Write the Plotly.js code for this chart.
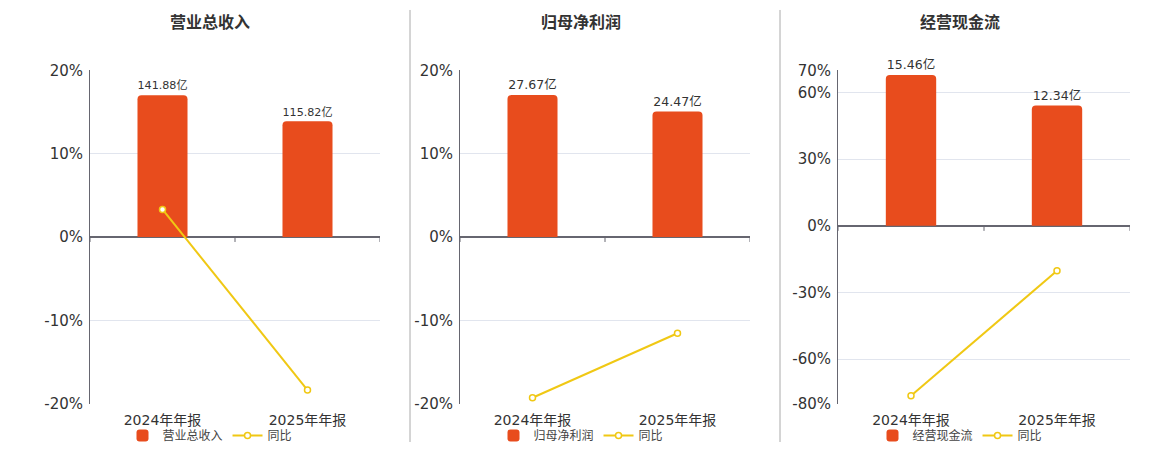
<!DOCTYPE html>
<html><head><meta charset="utf-8">
<script src="https://cdn.plot.ly/plotly-3.0.1.min.js"></script>
<style>html,body{margin:0;padding:0;background:#fff}#chart{width:1160px;height:450px}</style>
</head><body><div id="chart"></div>
<script>
const categories = ['2024年年报', '2025年年报'];
const panelTitles = ['营业总收入', '归母净利润', '经营现金流'];
const revenue = [141.88, 115.82];
const revenueYoY = [3.3, -18.37];
const netProfit = [27.67, 24.47];
const netProfitYoY = [-19.3, -11.56];
const cashFlow = [15.46, 12.34];
const cashFlowYoY = [-76.5, -20.18];
const pctTicks1 = [20, 10, 0, -10, -20];
const pctTicks3 = [70, 60, 30, 0, -30, -60, -80];

const FONT = 'DejaVu Sans, Noto Sans CJK SC, sans-serif';
const BAR = '#e84c1d';
const LINE = '#f0c814';
const W = 1160, H = 450;
const px = v => v / W, py = v => 1 - v / H;

const panels = [
  {bars: revenue, yoy: revenueYoY, domain: [px(90), px(380)], pRange: [-20, 20], bRange: [-166.7, 166.7], ticks: pctTicks1, tx: 210, lx: 210},
  {bars: netProfit, yoy: netProfitYoY, domain: [px(460), px(750)], pRange: [-20, 20], bRange: [-32.5, 32.5], ticks: pctTicks1, tx: 581, lx: 581},
  {bars: cashFlow, yoy: cashFlowYoY, domain: [px(838), px(1130)], pRange: [-80, 70], bRange: [-18.23, 15.95], ticks: pctTicks3, tx: 960, lx: 960}
];

const traces = [];
const layout = {
  width: W, height: H,
  margin: {l: 0, r: 0, t: 0, b: 0},
  paper_bgcolor: '#fff', plot_bgcolor: 'rgba(0,0,0,0)',
  font: {family: FONT, color: '#333', size: 12},
  showlegend: true,
  annotations: [], shapes: []
};

panels.forEach((p, i) => {
  const n = i + 1;
  const xa = n === 1 ? 'x' : 'x' + n;
  const yb = 'y' + (2 * n - 1 === 1 ? '' : (2 * n - 1));
  const yl = 'y' + (2 * n);
  const leg = n === 1 ? 'legend' : 'legend' + n;
  traces.push({
    type: 'bar', x: categories, y: p.bars, xaxis: xa, yaxis: yb,
    name: panelTitles[i], legend: leg,
    width: 0.345,
    marker: {color: BAR, cornerradius: 4},
    text: p.bars.map(v => v.toFixed(2) + '亿'),
    textposition: 'outside', cliponaxis: false,
    textfont: {size: 12.5, color: '#333', family: FONT},
    hoverinfo: 'skip'
  });
  traces.push({
    type: 'scatter', mode: 'lines+markers', x: categories, y: p.yoy, xaxis: xa, yaxis: yl,
    name: '同比', legend: leg,
    line: {color: LINE, width: 2},
    marker: {symbol: 'circle', size: 6, color: '#fff', line: {color: LINE, width: 1.5}},
    cliponaxis: false, hoverinfo: 'skip'
  });
  const xKey = n === 1 ? 'xaxis' : 'xaxis' + n;
  const ybKey = 'yaxis' + (2 * n - 1 === 1 ? '' : (2 * n - 1));
  const ylKey = 'yaxis' + (2 * n);
  layout[xKey] = {
    domain: p.domain, anchor: yb, type: 'category',
    range: [-0.5, 1.5], showgrid: false, zeroline: false, showline: false, ticks: '',
    ticklabelstandoff: 6,
    tickfont: {size: 14, color: '#333', family: FONT}, fixedrange: true
  };
  layout[ybKey] = {
    domain: [py(404.5), py(70.5)], anchor: xa, range: p.bRange,
    showgrid: false, zeroline: false, showline: false, showticklabels: false, ticks: '', fixedrange: true
  };
  layout[ylKey] = {
    domain: [py(404.5), py(70.5)], anchor: xa, overlaying: yb, side: 'left', range: p.pRange,
    tickmode: 'array', tickvals: p.ticks, ticktext: p.ticks.map(v => v + '%'),
    showgrid: true, gridcolor: '#e1e5ee', gridwidth: 1,
    zeroline: true, zerolinecolor: '#666670', zerolinewidth: 2,
    showline: true, linecolor: '#666670', linewidth: 1, ticks: '',
    ticklabelstandoff: 3,
    tickfont: {size: 15, color: '#333', family: FONT}, fixedrange: true
  };
  layout[leg] = {
    x: px(p.lx), y: py(436), xanchor: 'center', yanchor: 'middle', orientation: 'h',
    font: {size: 12, color: '#444', family: FONT}, bgcolor: 'rgba(0,0,0,0)',
    itemwidth: 30, tracegroupgap: 0, traceorder: 'normal'
  };
  layout.annotations.push({
    text: '<b>' + panelTitles[i] + '</b>', xref: 'paper', yref: 'paper',
    x: px(p.tx), y: py(23), xanchor: 'center', yanchor: 'middle', showarrow: false,
    font: {size: 16, color: '#333', family: FONT}
  });
  [-0.5, 0.5, 1.5].forEach(b => {
    layout.shapes.push({
      type: 'line', xref: xa, yref: yl, x0: b, x1: b,
      ysizemode: 'pixel', yanchor: 0, y0: 0, y1: -5,
      line: {color: '#666670', width: 1}
    });
  });
});

[410, 780].forEach(x => {
  layout.shapes.push({
    type: 'line', xref: 'paper', yref: 'paper', x0: px(x), x1: px(x), y0: py(10), y1: py(443),
    line: {color: '#aaaaaa', width: 1}
  });
});

Plotly.newPlot('chart', traces, layout, {displayModeBar: false, staticPlot: true});
</script>
</body></html>
